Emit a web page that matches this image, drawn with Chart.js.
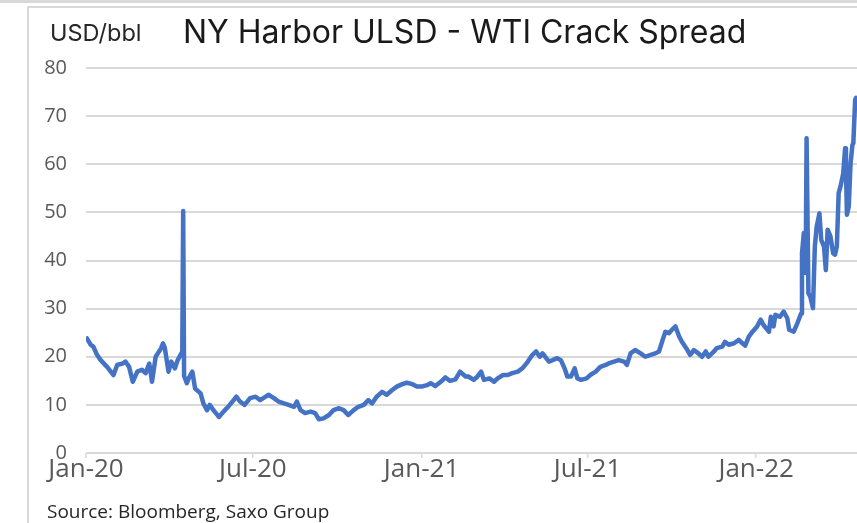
<!DOCTYPE html>
<html>
<head>
<meta charset="utf-8">
<script src="https://cdn.jsdelivr.net/npm/chart.js@4.4.1/dist/chart.umd.min.js"></script>
<style>
  html, body { margin: 0; padding: 0; background: #fff; }
  #wrap { position: relative; width: 857px; height: 523px; overflow: hidden; background: #fff; }
  #topbar { position: absolute; left: 0; top: 0; width: 857px; height: 3px; background: #d9d9d9; }
  #frame { position: absolute; left: 27px; top: 6px; width: 900px; height: 600px; border-left: 2px solid #d9d9d9; border-top: 2px solid #d9d9d9; }
  #chartbox { position: absolute; left: 0; top: 0; width: 857px; height: 523px; }
  .txt { position: absolute; white-space: nowrap; line-height: 1; }
  #unit { left: 50px; top: 18px; font: 23.5px "Inter", "Roboto", sans-serif; color: #262626; }
  #title { left: 183px; top: 12px; font: 32px "Inter", "Roboto", sans-serif; color: #1a1a1a; }
  #source { left: 47px; top: 498px; font: 19px "Open Sans", sans-serif; color: #262626; }
</style>
</head>
<body>
<div id="wrap">
  <div id="topbar"></div>
  <div id="frame"></div>
  <div id="chartbox"><canvas id="c" width="857" height="523"></canvas></div>
  <div class="txt" id="unit">USD/bbl</div>
  <div class="txt" id="title">NY Harbor ULSD - WTI Crack Spread</div>
  <div class="txt" id="source">Source: Bloomberg, Saxo Group</div>
</div>
<script>
// ---- data ----
const dates = [
 "2020-01-02","2020-01-06","2020-01-09","2020-01-13","2020-01-17","2020-01-24","2020-01-31","2020-02-04","2020-02-10","2020-02-13",
 "2020-02-17","2020-02-21","2020-02-26","2020-03-02","2020-03-06","2020-03-10","2020-03-13","2020-03-17","2020-03-23","2020-03-25",
 "2020-03-27","2020-03-31","2020-04-03","2020-04-07","2020-04-10","2020-04-14","2020-04-15","2020-04-16","2020-04-17","2020-04-20",
 "2020-04-22","2020-04-26","2020-04-29","2020-05-05","2020-05-08","2020-05-12","2020-05-15","2020-05-19","2020-05-25","2020-05-30",
 "2020-06-04","2020-06-10","2020-06-13","2020-06-17","2020-06-22","2020-06-28","2020-07-04","2020-07-09","2020-07-15","2020-07-18",
 "2020-07-24","2020-07-29","2020-08-04","2020-08-09","2020-08-15","2020-08-18","2020-08-22","2020-08-27","2020-09-02","2020-09-07",
 "2020-09-11","2020-09-16","2020-09-22","2020-09-27","2020-10-03","2020-10-08","2020-10-13","2020-10-19","2020-10-24","2020-10-30",
 "2020-11-04","2020-11-08","2020-11-13","2020-11-19","2020-11-24","2020-11-30","2020-12-05","2020-12-11","2020-12-16","2020-12-22",
 "2020-12-27","2021-01-01","2021-01-07","2021-01-11","2021-01-16","2021-01-22","2021-01-27","2021-02-01","2021-02-07","2021-02-12",
 "2021-02-18","2021-02-21","2021-02-27","2021-03-03","2021-03-07","2021-03-10","2021-03-16","2021-03-21","2021-03-25","2021-03-31",
 "2021-04-05","2021-04-10","2021-04-16","2021-04-21","2021-04-27","2021-05-02","2021-05-06","2021-05-10","2021-05-13","2021-05-17",
 "2021-05-20","2021-05-24","2021-05-29","2021-06-02","2021-06-06","2021-06-09","2021-06-13","2021-06-17","2021-06-20","2021-06-24",
 "2021-06-30","2021-07-04","2021-07-10","2021-07-15","2021-07-21","2021-07-24","2021-07-30","2021-08-04","2021-08-10","2021-08-13",
 "2021-08-17","2021-08-22","2021-08-28","2021-09-02","2021-09-08","2021-09-13","2021-09-17","2021-09-21","2021-09-24","2021-09-28",
 "2021-10-01","2021-10-05","2021-10-09","2021-10-12","2021-10-18","2021-10-21","2021-10-25","2021-10-30","2021-11-03","2021-11-07",
 "2021-11-10","2021-11-16","2021-11-19","2021-11-25","2021-11-28","2021-12-02","2021-12-08","2021-12-13","2021-12-17","2021-12-20",
 "2021-12-24","2021-12-28","2022-01-02","2022-01-06","2022-01-09","2022-01-15","2022-01-17","2022-01-20","2022-01-22","2022-01-27",
 "2022-01-31","2022-02-04","2022-02-06","2022-02-11","2022-02-15","2022-02-19","2022-02-20","2022-02-22","2022-02-24","2022-02-25",
 "2022-02-27","2022-03-01","2022-03-04","2022-03-06","2022-03-08","2022-03-11","2022-03-13","2022-03-16","2022-03-18","2022-03-20",
 "2022-03-23","2022-03-26","2022-03-28","2022-03-30","2022-04-01","2022-04-03","2022-04-06","2022-04-08","2022-04-09","2022-04-10",
 "2022-04-12","2022-04-14","2022-04-16","2022-04-17","2022-04-19","2022-04-20"
];
const crackSpread = [
 23.8,22.5,22.1,20.4,19.3,17.9,16.2,18.3,18.6,19.0,
 17.9,14.8,16.9,17.3,16.6,18.6,14.8,20.0,21.8,22.8,
 21.8,16.9,19.0,17.6,19.3,20.7,20.5,50.3,16.0,14.5,
 15.5,16.9,13.4,12.4,10.3,8.9,10.0,8.9,7.5,8.6,
 9.6,11.0,11.7,10.7,10.0,11.4,11.7,11.0,11.7,12.1,
 11.4,10.7,10.3,10.0,9.6,10.7,8.9,8.3,8.6,8.3,
 7.0,7.2,7.9,8.9,9.3,8.9,7.9,8.9,9.6,10.0,
 11.0,10.3,11.7,12.7,12.1,13.1,13.8,14.3,14.6,14.3,
 13.8,13.8,14.1,14.5,13.9,14.8,15.7,15.0,15.3,16.9,
 15.9,15.9,15.2,15.9,16.9,15.2,15.5,14.8,15.5,16.2,
 16.2,16.6,16.9,17.6,19.0,20.4,21.1,20.0,20.7,19.7,
 19.0,19.3,19.7,19.3,17.6,15.9,15.9,17.6,15.5,15.2,
 15.5,16.2,16.9,17.9,18.3,18.6,19.0,19.3,19.0,18.3,
 20.7,21.4,20.7,20.0,20.4,20.7,21.1,23.5,25.2,24.9,
 25.6,26.3,24.2,23.1,21.4,20.4,21.4,20.7,20.0,21.1,
 20.0,21.1,21.8,22.1,23.1,22.5,22.8,23.5,22.8,22.3,
 24.2,25.2,26.3,27.7,26.6,25.2,28.3,26.3,28.7,28.3,
 29.4,28.0,25.6,25.2,27.0,29.0,41.5,45.7,37.4,65.4,
 33.2,32.5,30.1,42.9,47.0,49.8,44.3,42.9,38.0,46.4,
 45.0,41.5,41.2,42.9,54.0,55.4,58.1,63.3,58.8,49.5,
 51.2,60.2,64.0,64.4,73.4,73.8
];
const tickDates = ["2020-01-01","2020-07-01","2021-01-01","2021-07-01","2022-01-01"];
const tickLabels = ["Jan-20","Jul-20","Jan-21","Jul-21","Jan-22"];
const yTicks = [0,10,20,30,40,50,60,70,80];

const xMin = Date.parse("2020-01-01");
const xMax = Date.parse("2022-04-21");
const points = dates.map((d, i) => ({ x: Date.parse(d), y: crackSpread[i] }));
const tickVals = tickDates.map(d => Date.parse(d));

new Chart(document.getElementById('c'), {
  type: 'line',
  data: {
    datasets: [{
      data: points,
      borderColor: '#4472C4',
      borderWidth: 4.5,
      pointRadius: 0,
      tension: 0,
      fill: false,
      borderJoinStyle: 'round',
      borderCapStyle: 'round'
    }]
  },
  options: {
    responsive: false,
    animation: false,
    events: [],
    layout: { padding: { top: 68, right: 0, bottom: 0, left: 0 } },
    plugins: { legend: { display: false }, tooltip: { enabled: false }, title: { display: false } },
    scales: {
      x: {
        type: 'linear',
        min: xMin,
        max: xMax,
        afterBuildTicks: (s) => { s.ticks = tickVals.map(v => ({ value: v })); },
        afterFit: (s) => { s.height = 70; },
        border: { display: false },
        grid: { display: true, drawOnChartArea: false, drawTicks: true, tickLength: 5, color: '#d9d9d9', lineWidth: 1.5 },
        ticks: {
          autoSkip: false,
          maxRotation: 0,
          padding: -4,
          color: '#595959',
          font: { family: 'Open Sans', size: 26 },
          callback: (v) => { const i = tickVals.indexOf(v); return i >= 0 ? tickLabels[i] : ''; }
        }
      },
      y: {
        min: 0,
        max: 80,
        afterBuildTicks: (s) => { s.ticks = yTicks.map(v => ({ value: v })); },
        afterFit: (s) => { s.width = 86; },
        border: { display: false },
        grid: { color: '#d9d9d9', lineWidth: 2, drawTicks: false },
        ticks: {
          padding: 19,
          color: '#595959',
          font: { family: 'Open Sans', size: 20 }
        }
      }
    }
  }
});
</script>
</body>
</html>
